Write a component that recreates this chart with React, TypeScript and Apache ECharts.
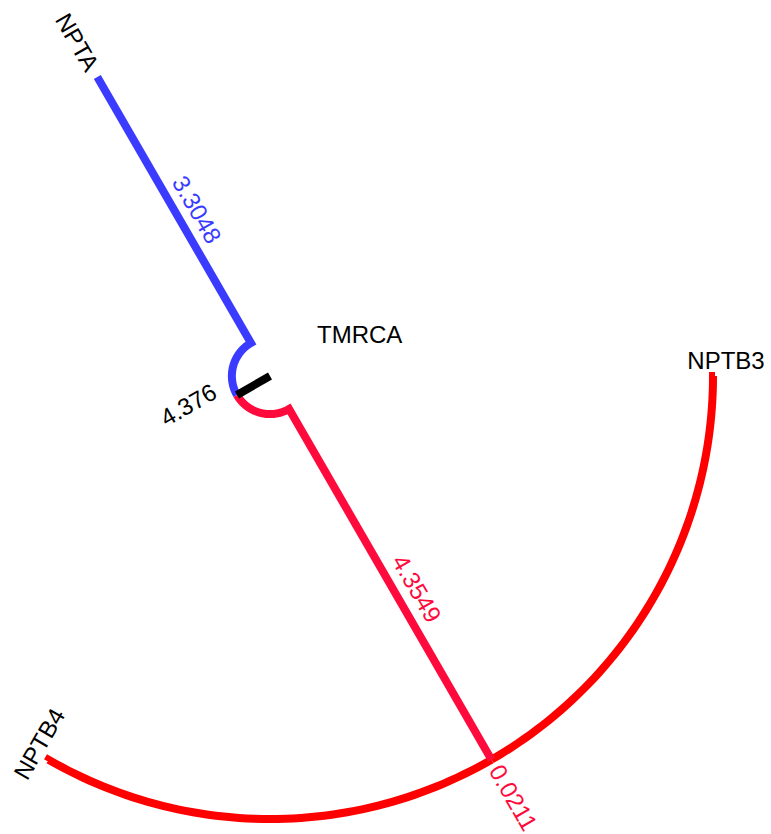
import React, { useEffect, useRef } from 'react';
import * as echarts from 'echarts';

// ---- tree data ----
const nodeNames = ['TMRCA', 'NPTA', 'B', 'NPTB3', 'NPTB4'];
const parentIndex = [-1, 0, 0, 2, 2];
const branchLengths = [0, 3.3048, 4.3549, 0.0211, 0.0211];
const tipOrder = ['NPTB3', 'NPTB4', 'NPTA']; // clockwise from 0 deg
const rootHeight = 4.376;
const tipLabels = ['', 'NPTA', '', 'NPTB3', 'NPTB4'];
const branchLabels = ['', '3.3048', '4.3549', '', ''];
const nodeLabels = ['4.376', '', '0.0211', '', ''];
const titleText = 'TMRCA';

// ---- style / layout config ----
const RADIUS_MIN = -0.41; // room for the root stub
const RADIUS_MAX = 4.43;
const FONT = '"Liberation Sans", Arial, Helvetica, sans-serif';
const FONT_SIZE = 24;
const LINE_W = 8;
const branchColors = ['#000000', '#3b3bff', '#ff0a3c', '#ff0000', '#ff0000'];
const labelColors = ['#000000', '#3b3bff', '#ff0a3c', '#ff0000', '#ff0000'];
const nodeLabelColors = ['#000000', '#000000', '#ff0a3c', '#000000', '#000000'];
// offsets: da along reading direction, db along "up" of the text
const tipLabelPos: Record<string, { da: number; db: number }> = {
  NPTA: { da: -40, db: 0 },
  NPTB3: { da: 11, db: 16 },
  NPTB4: { da: 11, db: 16 },
};
const branchLabelPos: Record<number, { da: number; db: number }> = {
  1: { da: 11, db: 20 },
  2: { da: 17, db: 21 },
};
const nodeLabelPos: Record<number, { da: number; db: number; align: string }> = {
  0: { da: -47, db: 16, align: 'center' },
  2: { da: 8, db: 0, align: 'left' },
};

// ---- layout (computed) ----
const n = nodeNames.length;
const depth: number[] = new Array(n).fill(0);
for (let i = 0; i < n; i++) {
  if (parentIndex[i] >= 0) depth[i] = depth[parentIndex[i]] + branchLengths[i];
}
const children: number[][] = nodeNames.map((_, i) =>
  parentIndex.map((p, j) => (p === i ? j : -1)).filter((j) => j >= 0)
);
const angle: number[] = new Array(n).fill(0);
tipOrder.forEach((name, k) => {
  angle[nodeNames.indexOf(name)] = (k * 360) / tipOrder.length;
});
for (let i = n - 1; i >= 0; i--) {
  const ch = children[i];
  if (ch.length) angle[i] = ch.reduce((s, c) => s + angle[c], 0) / ch.length;
}
const drawOrder = [3, 4, 2, 1, 0];
const seriesData = drawOrder.map((i) => {
  const p = parentIndex[i];
  return [depth[i], angle[i], p >= 0 ? depth[p] : RADIUS_MIN, p >= 0 ? angle[p] : angle[i], i];
});

function readRot(a: number) {
  let r = ((a % 360) + 360) % 360;
  if (r > 90 && r < 270) r -= 180;
  if (r >= 270) r -= 360;
  return r;
}

function makeText(text: string, px: number, py: number, rotDeg: number, da: number, db: number, color: string, align = 'center') {
  const t = (rotDeg * Math.PI) / 180;
  const ux = Math.cos(t), uy = Math.sin(t);
  const vx = Math.sin(t), vy = -Math.cos(t);
  return {
    type: 'text',
    x: px + da * ux + db * vx,
    y: py + da * uy + db * vy,
    rotation: -t,
    style: {
      text,
      x: 0,
      y: 0,
      fill: color,
      fontSize: FONT_SIZE,
      fontFamily: FONT,
      align,
      verticalAlign: 'middle',
    },
    z2: 10,
  };
}

export default function App() {
  const ref = useRef<HTMLDivElement>(null);
  useEffect(() => {
    const chart = echarts.init(ref.current!, null, { renderer: 'svg' });
    chart.setOption({
      animation: false,
      backgroundColor: '#ffffff',
      title: {
        text: titleText,
        left: 312,
        top: 317,
        textStyle: { fontSize: FONT_SIZE, fontWeight: 'normal', color: '#000', fontFamily: FONT },
      },
      polar: { center: [270, 376], radius: [0, 450] },
      angleAxis: { type: 'value', min: 0, max: 360, startAngle: 0, clockwise: true, show: false },
      radiusAxis: { type: 'value', min: RADIUS_MIN, max: RADIUS_MAX, show: false },
      series: [
        {
          type: 'custom',
          coordinateSystem: 'polar',
          clip: false,
          data: seriesData,
          renderItem: (params: any, api: any) => {
            const d = api.value(0), a = api.value(1), pd = api.value(2), pa = api.value(3);
            const i = api.value(4);
            const pts: number[][] = [];
            const steps = Math.max(1, Math.ceil(Math.abs(a - pa)));
            for (let k = 0; k <= steps; k++) pts.push(api.coord([pd, pa + ((a - pa) * k) / steps]));
            const tip = api.coord([d, a]);
            pts.push(tip);
            const children: any[] = [
              {
                type: 'polyline',
                shape: { points: pts },
                style: { stroke: branchColors[i], lineWidth: LINE_W, fill: null, lineJoin: 'miter', lineCap: 'butt' },
              },
            ];
            const rot = readRot(a);
            if (tipLabels[i]) {
              const o = tipLabelPos[tipLabels[i]];
              children.push(makeText(tipLabels[i], tip[0], tip[1], rot, o.da, o.db, '#000000'));
            }
            if (branchLabels[i]) {
              const s = api.coord([pd, a]);
              const o = branchLabelPos[i];
              children.push(makeText(branchLabels[i], (s[0] + tip[0]) / 2, (s[1] + tip[1]) / 2, rot, o.da, o.db, labelColors[i]));
            }
            if (nodeLabels[i]) {
              const o = nodeLabelPos[i];
              children.push(makeText(nodeLabels[i], tip[0], tip[1], rot, o.da, o.db, nodeLabelColors[i], o.align));
            }
            return { type: 'group', children };
          },
        },
      ],
    });
    return () => chart.dispose();
  }, []);
  return (
    <div
      ref={ref}
      style={{ position: 'absolute', left: 0, top: 0, width: 771, height: 834, background: '#fff' }}
    />
  );
}
